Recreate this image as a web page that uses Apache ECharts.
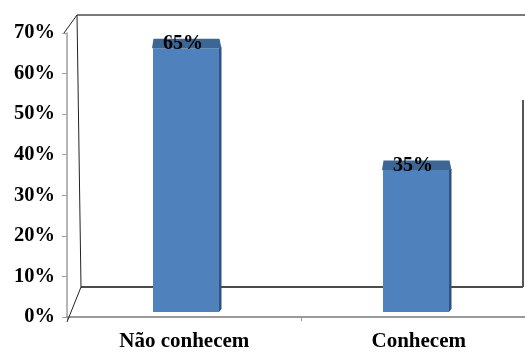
<!DOCTYPE html>
<html>
<head>
<meta charset="utf-8">
<script src="https://cdn.jsdelivr.net/npm/echarts@6/dist/echarts.min.js"></script>
<style>
  html, body { margin: 0; padding: 0; background: #fff; overflow: hidden; }
  /* the floor runs past the right edge of the window */
  #chart { width: 540px; height: 352px; }
</style>
</head>
<body>
<div id="chart"></div>
<script>
// Survey answers: share of respondents who know / don't know the subject
const categories = ['Não conhecem', 'Conhecem'];
const percentages = [65, 35];
const tickMax = 70;
const tickStep = 10;

const FONT = '"Liberation Serif", "Times New Roman", serif';

const chart = echarts.init(document.getElementById('chart'));

// Pseudo-3D column: front face, darker top face and a thin right side face
function renderColumn(params, api) {
  const idx = api.value(0);
  const val = api.value(1);
  const top = api.coord([idx, val]);
  const base = api.coord([idx, 0]);
  const w = 66;
  const x0 = top[0] - w / 2;
  const x1 = top[0] + w / 2;
  const yt = top[1];
  const yb = base[1];
  const depth = 9.5;
  return {
    type: 'group',
    children: [
      {
        type: 'polygon',
        shape: { points: [[x1, yt], [x1 + 2.5, yt - 1], [x1 + 2.5, yb - 3], [x1, yb]] },
        style: { fill: '#2F5282' }
      },
      {
        type: 'rect',
        shape: { x: x0, y: yt, width: w, height: yb - yt },
        style: { fill: '#4F81BD' }
      },
      {
        type: 'polygon',
        shape: { points: [[x0 - 1, yt], [x1 + 2.5, yt], [x1 + 0.5, yt - depth], [x0 + 0.5, yt - depth]] },
        style: { fill: '#3C6694' }
      },
      {
        type: 'text',
        style: {
          text: val + '%',
          x: top[0] - 3,
          y: yt - 4,
          align: 'center',
          verticalAlign: 'middle',
          fill: '#000',
          font: 'bold 20px ' + FONT
        }
      }
    ]
  };
}

chart.setOption({
  animation: false,
  backgroundColor: '#fff',
  grid: [
    // front axes (value labels on the left, categories at the bottom)
    { left: 67, right: 4, top: 33, bottom: 30 },
    // plane in which the columns stand
    { left: 71, right: 9, top: 28, bottom: 40 }
  ],
  xAxis: [
    {
      gridIndex: 0,
      type: 'category',
      data: categories,
      boundaryGap: true,
      axisLine: { lineStyle: { color: '#9A9A9A', width: 2 } },
      axisTick: { show: true, length: 4, lineStyle: { color: '#9A9A9A' } },
      axisLabel: {
        margin: 14,
        color: '#000',
        fontFamily: FONT,
        fontWeight: 'bold',
        fontSize: 21
      },
      splitLine: { show: false }
    },
    {
      gridIndex: 1,
      type: 'category',
      data: categories,
      show: false
    }
  ],
  yAxis: [
    {
      gridIndex: 0,
      type: 'value',
      min: 0,
      max: tickMax,
      interval: tickStep,
      axisLine: { show: true, lineStyle: { color: '#9E9E9E', width: 1.5 } },
      axisTick: { show: true, length: 5, lineStyle: { color: '#9E9E9E' } },
      axisLabel: {
        formatter: '{value}%',
        margin: 12,
        color: '#000',
        fontFamily: FONT,
        fontWeight: 'bold',
        fontSize: 20.5
      },
      splitLine: { show: false }
    },
    {
      gridIndex: 1,
      type: 'value',
      min: 0,
      max: tickMax,
      show: false
    }
  ],
  // back wall and floor edges of the 3-D box
  graphic: [
    { type: 'line', shape: { x1: 77, y1: 15, x2: 525, y2: 15 }, style: { stroke: '#7A7A7A', lineWidth: 2 }, z: 1 },
    { type: 'line', shape: { x1: 77, y1: 15, x2: 81, y2: 287 }, style: { stroke: '#222', lineWidth: 1 }, z: 1 },
    { type: 'line', shape: { x1: 81, y1: 287, x2: 523, y2: 287 }, style: { stroke: '#111', lineWidth: 1.5 }, z: 1 },
    { type: 'line', shape: { x1: 523, y1: 100, x2: 523, y2: 287 }, style: { stroke: '#555', lineWidth: 2 }, z: 1 },
    { type: 'line', shape: { x1: 64, y1: 33, x2: 77, y2: 15 }, style: { stroke: '#222', lineWidth: 1 }, z: 1 },
    { type: 'line', shape: { x1: 67, y1: 322, x2: 81, y2: 287 }, style: { stroke: '#222', lineWidth: 1 }, z: 1 }
  ],
  series: [
    {
      type: 'custom',
      xAxisIndex: 1,
      yAxisIndex: 1,
      renderItem: renderColumn,
      data: percentages.map((v, i) => [i, v]),
      z: 10
    }
  ]
});
</script>
</body>
</html>
